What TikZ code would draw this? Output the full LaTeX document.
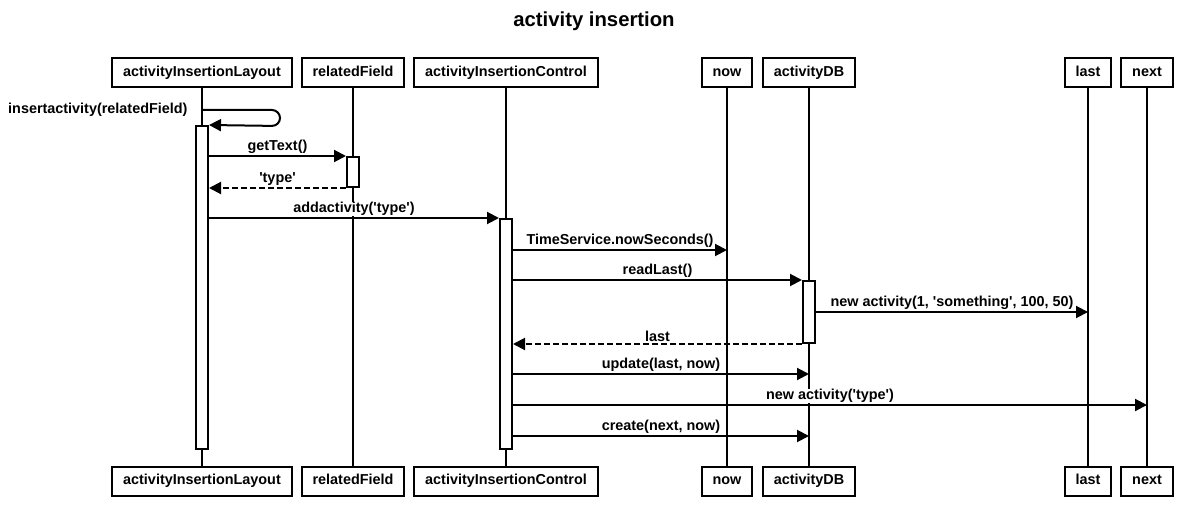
\documentclass[tikz,border=0pt]{standalone}
\usepackage{fontspec}
\setmainfont{Liberation Sans}
\usetikzlibrary{arrows.meta}
\newcommand{\sq}{\textquotesingle}
\tikzset{
  obj/.style={draw=black,line width=2pt,fill=white,minimum height=29pt,inner xsep=11pt,inner ysep=0pt,
    text height=10.5pt,text depth=3pt}, % lifeline head/foot
  life/.style={black,line width=2pt},                                  % lifeline
  act/.style={draw=black,line width=2pt,fill=white,minimum width=12pt,inner sep=0pt}, % activation bar
  msg/.style={-{Triangle[length=12pt,width=12pt]},line width=2pt},
  ret/.style={msg,dash pattern=on 6pt off 3pt},
  lbl/.style={above=1pt,fill=white,inner sep=0.5pt},
}

\begin{document}
\begin{tikzpicture}[x=1pt,y=-1pt,font=\bfseries\fontsize{14.4}{17}\selectfont]
  \fill[white] (0,0) rectangle (1188,521);
  \useasboundingbox (0,0) rectangle (1188,521);
  \node[font=\bfseries\fontsize{20.3}{24}\selectfont] (title) at (594,21) {activity insertion};
  % heads
  \node[obj] (layT) at (202,73) {activityInsertionLayout}; \node[obj] (relT) at (353,73) {relatedField};
  \node[obj] (conT) at (506,73) {activityInsertionControl}; \node[obj] (nowT) at (727,73) {now};
  \node[obj] (dbT) at (809,73) {activityDB}; \node[obj] (lastT) at (1088,73) {last};
  \node[obj] (nextT) at (1147,73) {next};
  % feet
  \node[obj] (layB) at (202,481) {activityInsertionLayout}; \node[obj] (relB) at (353,481) {relatedField};
  \node[obj] (conB) at (506,481) {activityInsertionControl}; \node[obj] (nowB) at (727,481) {now};
  \node[obj] (dbB) at (809,481) {activityDB}; \node[obj] (lastB) at (1088,481) {last};
  \node[obj] (nextB) at (1147,481) {next};
  \draw[life] (layT) -- (layB); \draw[life] (relT) -- (relB); \draw[life] (conT) -- (conB);
  \draw[life] (nowT) -- (nowB); \draw[life] (dbT) -- (dbB); \draw[life] (lastT) -- (lastB);
  \draw[life] (nextT) -- (nextB);
  % activations
  \node[act,minimum height=323pt] (layA) at (202,287.5) {};
  \node[act,minimum height=30pt] (relA) at (353,172) {};
  \node[act,minimum height=230pt] (conA) at (506,334) {};
  \node[act,minimum height=62pt] (dbA) at (809,312) {};
  \coordinate (m1) at (0,110); \coordinate (m4) at (0,250); \coordinate (m8) at (0,374);
  \coordinate (m9) at (0,405); \coordinate (m10) at (0,436);
  % messages
  \draw[msg,rounded corners=8pt] (layT |- m1) -- (280,110) -- (280,126) -- (layA.north east);
  \node[anchor=east] (l1) at (191,110) {insertactivity(relatedField)};
  \draw[msg] (layA.east |- relA.north) -- (relA.north west) node[lbl,midway] (l2) {getText()};
  \draw[ret] (relA.south west) -- (layA.east |- relA.south) node[lbl,midway] (l3) {\sq type\sq};
  \draw[msg] (layA.east |- conA.north) -- (conA.north west) node[lbl,midway] (l4) {addactivity(\sq type\sq)};
  \draw[msg] (conA.east |- m4) -- (nowT |- m4) node[lbl,midway] (l5) {TimeService.nowSeconds()};
  \draw[msg] (conA.east |- dbA.north) -- (dbA.north west) node[lbl,midway] (l6) {readLast()};
  \draw[msg] (dbA.east) -- (lastT |- dbA.east) node[lbl,midway] (l7) {new activity(1, \sq something\sq, 100, 50)};
  \draw[ret] (dbA.south west) -- (conA.east |- dbA.south) node[lbl,midway] (l8) {last};
  \draw[msg] (conA.east |- m8) -- (dbT |- m8) node[lbl,midway] (l9) {update(last, now)};
  \draw[msg] (conA.east |- m9) -- (nextT |- m9) node[lbl,midway] (l10) {new activity(\sq type\sq)};
  \draw[msg] (conA.east |- m10) -- (dbT |- m10) node[lbl,midway] (l11) {create(next, now)};
\end{tikzpicture}
\end{document}
